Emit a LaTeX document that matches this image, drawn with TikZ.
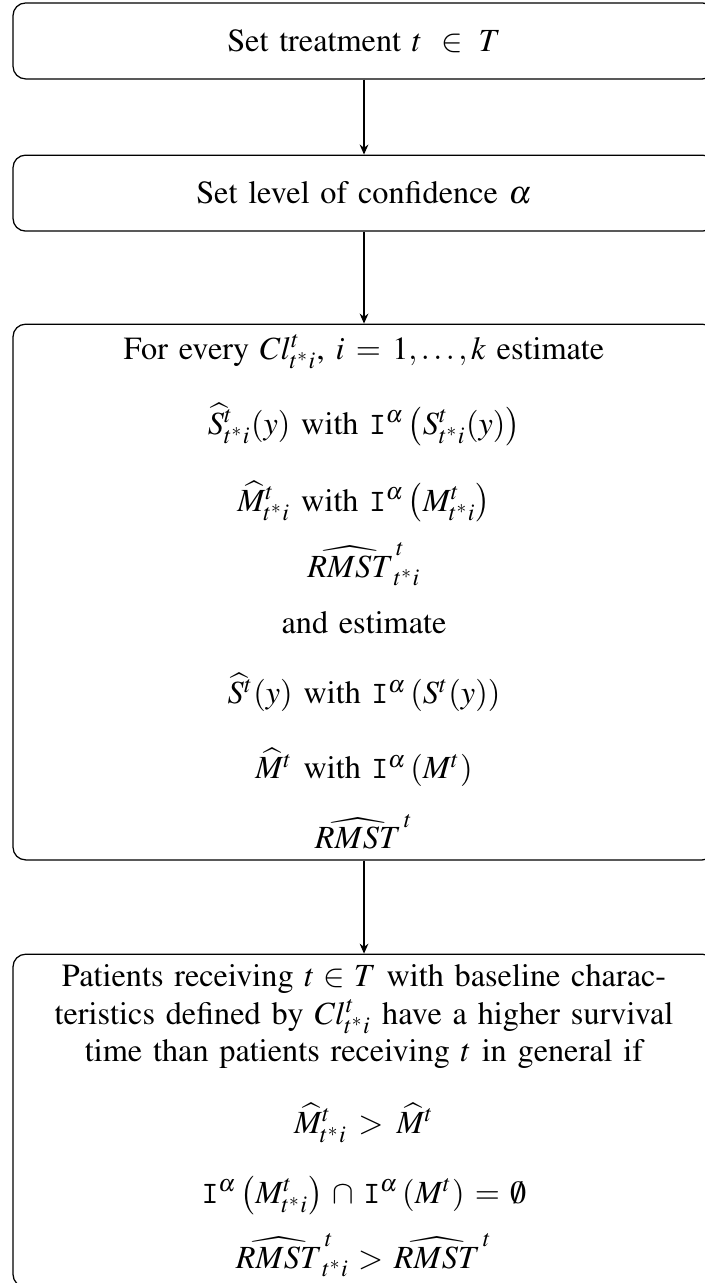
\documentclass[tikz,border=0pt]{standalone}
\usepackage[T1]{fontenc}
\usepackage{mathptmx}
\usepackage{graphicx}
\usetikzlibrary{arrows.meta,positioning}
\newcommand{\ConfInt}{\mathtt{I}}
\newcommand{\tgt}{\mathrel{\mkern-4mu>\mkern-3mu}}
\newcommand{\teq}{\mathrel{\mkern-2.5mu=\mkern-2.5mu}}
\newsavebox{\hatbase}
\newsavebox{\hatcap}
\newcommand{\WideHat}[1]{%
  \mathord{\sbox{\hatbase}{$#1$}%
  \sbox{\hatcap}{$\widehat{\vphantom{#1}\hbox to 0.9em{}}$}%
  \rlap{\resizebox{\wd\hatbase}{\height}{\usebox{\hatcap}}}\usebox{\hatbase}}}

\begin{document}
\begin{tikzpicture}[
    box/.style={
      draw, rounded corners, align=center, text width=218pt,
      inner sep=3.33pt, font={\fontsize{10.33pt}{12pt}\selectfont},
      execute at begin node={\lineskiplimit=-100pt}
    },
    arrow/.style={-{Stealth[length=3.2pt,width=2.8pt]}, draw=black}
  ]
  \useasboundingbox (0,0) rectangle (225.6pt,-410.6pt);

  \node[box, minimum height=24.3pt] (treat) at (116.5pt,-13.1pt) {Set treatment $t\,\in T$};
  \node[box, minimum height=24.3pt, below=24pt of treat] (conf) {Set level of confidence $\alpha$};
  \node[box, below=29.4pt of conf] (estim) {%
    For every $Cl^t_{t^*i}$, $i=1,\dots,k$ estimate\\[12pt]
    $\widehat{S}^t_{t^*i}(y)$ with $\ConfInt^\alpha\left(S^t_{t^*i}(y)\right)$\\[12.6pt]
    $\widehat{M}^t_{t^*i}$ with $\ConfInt^\alpha\left(M^t_{t^*i}\right)$\\[9.1pt]
    $\WideHat{RMST}^{\,t}_{t^*i}$\\[6.2pt]
    and estimate\\[10.4pt]
    $\widehat{S}^t(y)$ with $\ConfInt^\alpha\left(S^t(y)\right)$\\[12pt]
    $\widehat{M}^t$ with $\ConfInt^\alpha\left(M^t\right)$\\[10.4pt]
    $\WideHat{RMST}^{\,t}$};
  \node[box, below=29.8pt of estim] (concl) {%
    Patients receiving $t \in T$ with baseline charac-\\
    teristics defined by $Cl^t_{t^*i}$ have a higher survival\\
    time than patients receiving $t$ in general if\\[11pt]
    $\widehat{M}^t_{t^*i} \tgt \widehat{M}^t$\\[10.4pt]
    $\ConfInt^\alpha\left(M^t_{t^*i}\right) \cap \ConfInt^\alpha\left(M^t\right) \teq \emptyset$\\[8.8pt]
    $\WideHat{RMST}^{\,t}_{t^*i} \tgt \WideHat{RMST}^{\,t}$};

  \draw[arrow] (treat) -- (conf);
  \draw[arrow] (conf) -- (estim);
  \draw[arrow] (estim) -- (concl);
\end{tikzpicture}
\end{document}
